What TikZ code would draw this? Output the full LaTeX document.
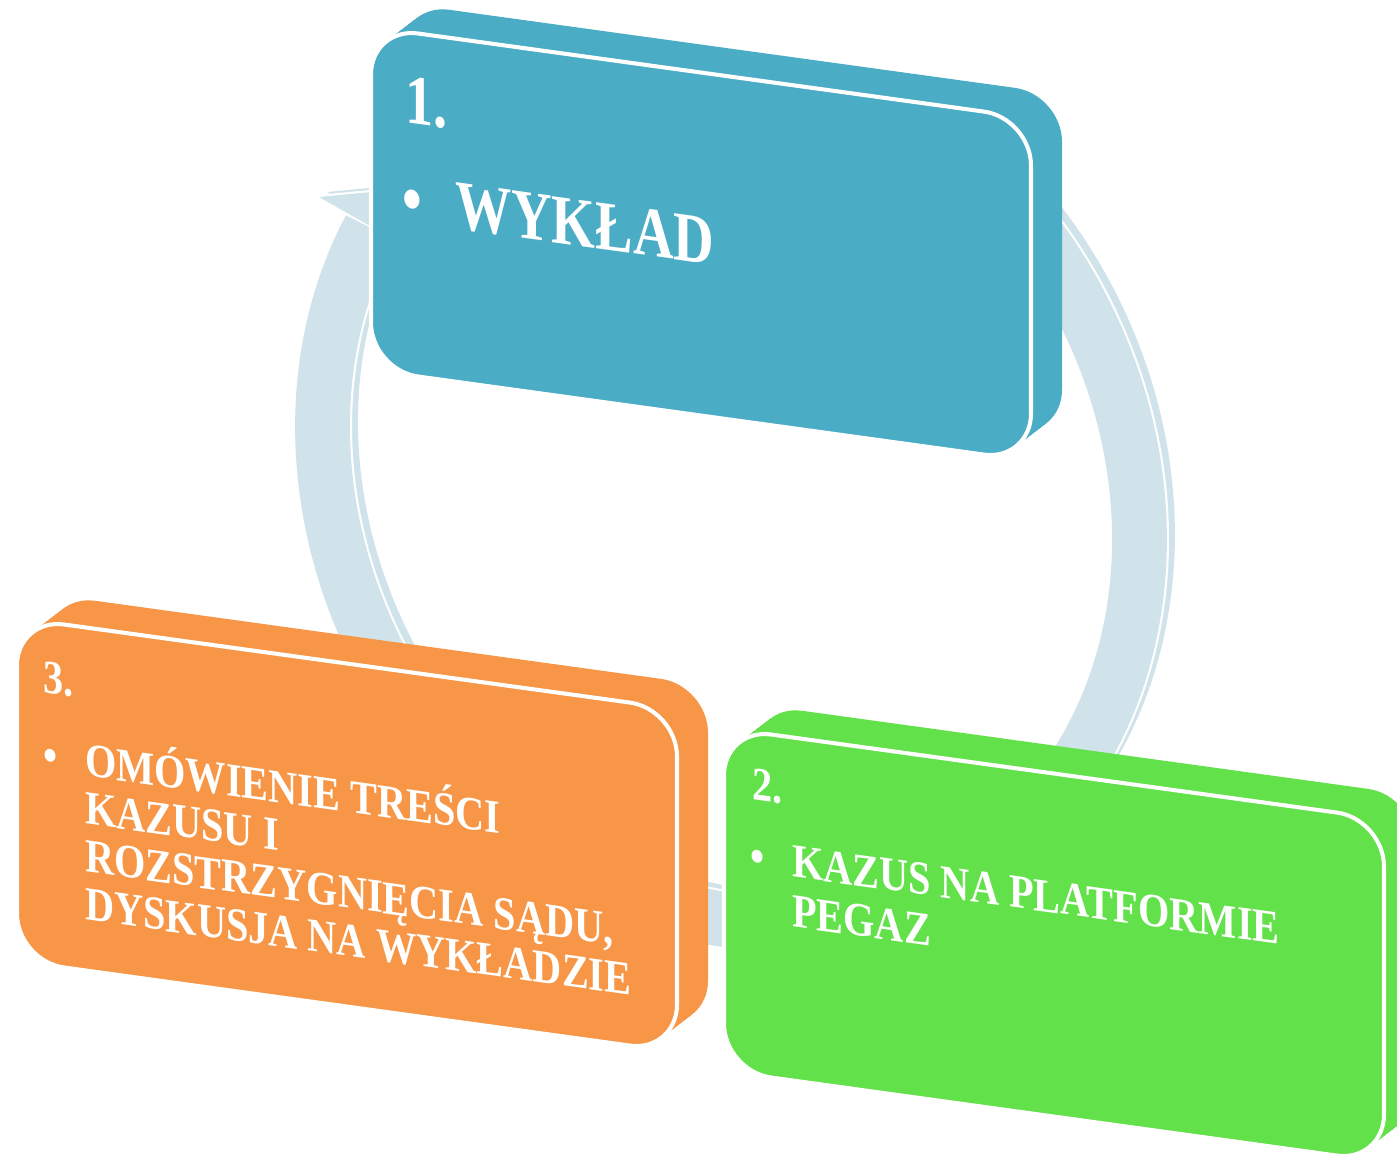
\documentclass[tikz,border=0pt]{standalone}
\usepackage{fontspec}
\newfontfamily\bigfont[FakeStretch=0.8]{Liberation Serif}
\newfontfamily\smallfont[FakeStretch=0.85]{Liberation Serif}
\definecolor{boxblue}{HTML}{4BACC6}
\definecolor{boxorange}{HTML}{F79646}
\definecolor{boxgreen}{HTML}{62E14A}
\definecolor{ringblue}{HTML}{D0E3EA}
\tikzset{
  boxtext/.style={text=white, anchor=base west, inner sep=0pt, outer sep=0pt, transform shape},
  bigtext/.style={boxtext, font=\bigfont\bfseries\fontsize{40}{48}\selectfont, text height=27pt, text depth=0pt},
  smalltext/.style={boxtext, font=\smallfont\bfseries\fontsize{27}{33}\selectfont, text height=18pt, text depth=0pt},
  cardface/.style={rounded corners=27pt},
  ringband/.style={line width=31.2pt},
}
\newcommand\drawcard[1]{%
  \foreach \k in {20,19,...,1}{\fill[#1, cardface] ({1.55*\k},{-1.4*\k}) rectangle ++(660,343);}
  \filldraw[fill=#1, draw=white, line width=2.3pt, cardface] (0,0) rectangle (660,343);
}
\begin{document}
\begin{tikzpicture}[x=0.02cm, y=-0.02cm]
\useasboundingbox (0,0) rectangle (1397,1155);
\clip (0,0) rectangle (1397,1155);
\fill[white] (0,0) rectangle (1397,1155);

% cycle arrow (ring) behind the cards
\coordinate (hbo) at (327,192);
\coordinate (hbt) at (400,185);
\coordinate (hbi) at (429,250);
\coordinate (hfo) at (319,197);
\coordinate (hft) at (392,190);
\coordinate (hfi) at (421,255);
\draw[ringblue, ringband] plot[domain=-52:208, samples=160, smooth] ({739+408.5*cos(\x)},{478+437.5*sin(\x)+56.4*cos(\x)});
\fill[ringblue] (hbo) -- (hbt) -- (hbi) -- cycle;
\draw[white, line width=33.6pt] plot[domain=-52:208, samples=160, smooth] ({731+408.5*cos(\x)},{483+437.5*sin(\x)+56.4*cos(\x)});
\filldraw[white, line width=2.4pt, line join=round] (hfo) -- (hft) -- (hfi) -- cycle;
\draw[ringblue, ringband] plot[domain=-52:208, samples=160, smooth] ({731+408.5*cos(\x)},{483+437.5*sin(\x)+56.4*cos(\x)});
\fill[ringblue] (hfo) -- (hft) -- (hfi) -- cycle;

% card 1 (blue)
\begin{scope}[shift={(371,27)}, yslant=-0.138]
  \drawcard{boxblue}
  \node[bigtext] (n1num) at (34,91.3) {1.};
  \node[bigtext] (n1bul) at (31,190.4) {•};
  \node[bigtext] (n1txt) at (84,190.4) {WYKŁAD};
\end{scope}

% card 3 (orange)
\begin{scope}[shift={(17,618)}, yslant=-0.138]
  \drawcard{boxorange}
  \node[smalltext] (n3num) at (26,71.4) {3.};
  \node[smalltext] (n3bul) at (26,148.5) {•};
  \node[smalltext] (n3a) at (68,148.5) {OMÓWIENIE TREŚCI};
  \node[smalltext] (n3b) at (68,196.5) {KAZUSU I};
  \node[smalltext] (n3c) at (68,244.5) {ROZSTRZYGNIĘCIA SĄDU,};
  \node[smalltext] (n3d) at (68,292.5) {DYSKUSJA NA WYKŁADZIE};
\end{scope}

% card 2 (green)
\begin{scope}[shift={(724,728)}, yslant=-0.138]
  \drawcard{boxgreen}
  \node[smalltext] (n2num) at (28,68) {2.};
  \node[smalltext] (n2bul) at (26,139.5) {•};
  \node[smalltext] (n2a) at (68,139.5) {KAZUS NA PLATFORMIE};
  \node[smalltext] (n2b) at (68,189.5) {PEGAZ};
\end{scope}
\end{tikzpicture}
\end{document}
